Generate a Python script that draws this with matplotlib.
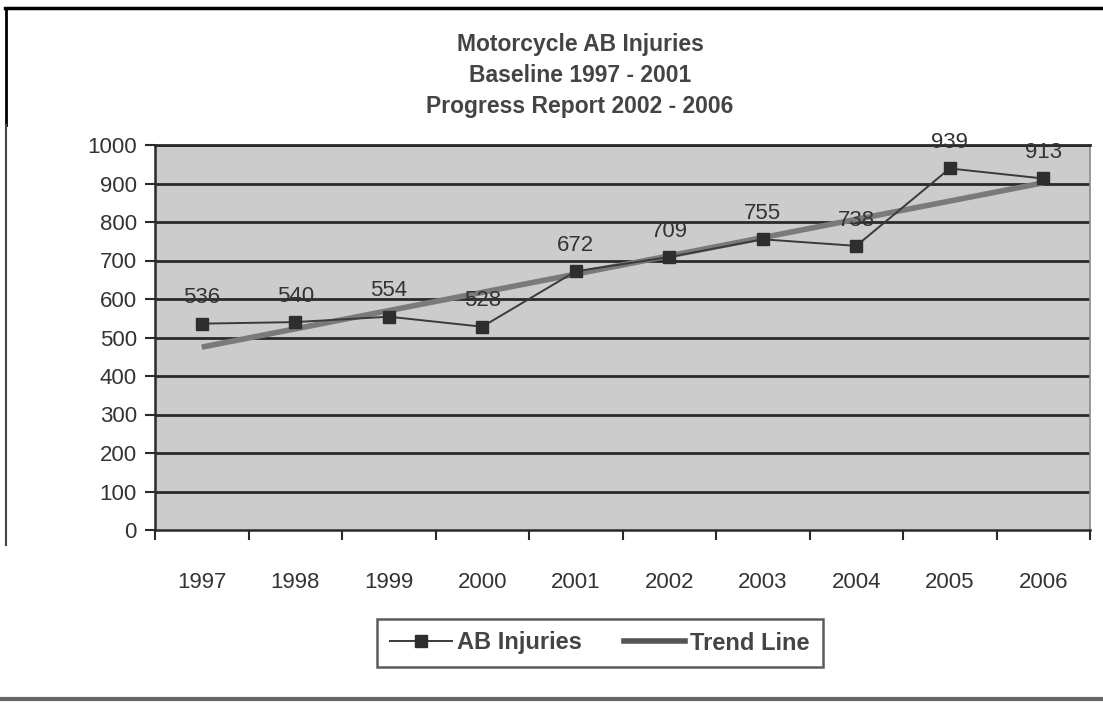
import matplotlib
matplotlib.use("Agg")
import matplotlib.pyplot as plt
import numpy as np
from matplotlib.lines import Line2D
from matplotlib.ticker import FixedLocator

years = ["1997", "1998", "1999", "2000", "2001", "2002", "2003", "2004", "2005", "2006"]
injuries = [536, 540, 554, 528, 672, 709, 755, 738, 939, 913]
yticks = [0, 100, 200, 300, 400, 500, 600, 700, 800, 900, 1000]
title_lines = ["Motorcycle AB Injuries", "Baseline 1997 - 2001", "Progress Report 2002 - 2006"]

plt.rcParams['font.family'] = ['Liberation Sans', 'DejaVu Sans']

W, H = 1103, 703
fig = plt.figure(figsize=(W / 100, H / 100), dpi=100)
fig.patch.set_facecolor('white')

def fx(px):
    return px / W

def fy(py):
    return 1 - py / H

ax = fig.add_axes([fx(155), fy(530), fx(1090) - fx(155), fy(145) - fy(530)])
ax.set_facecolor('#cccccc')

x = np.arange(len(years))
coef = np.polyfit(x, injuries, 1)
trend = np.polyval(coef, x)

ax.set_xlim(-0.5, len(years) - 0.5)
ax.set_ylim(0, 1000)

for v in yticks[1:]:
    ax.axhline(v, color='#2a2a2a', lw=2.0, zorder=1)

ax.plot(x, trend, color='#7a7a7a', lw=4, solid_capstyle='butt', zorder=2)
ax.plot(x, injuries, color='#3a3a3a', lw=1.4, marker='s', markersize=8,
        markerfacecolor='#2e2e2e', markeredgecolor='#2e2e2e', zorder=3)

for xi, v in zip(x, injuries):
    ax.annotate(str(v), (xi, v), xytext=(0, 11), textcoords='offset points',
                ha='center', va='bottom', fontsize=16, color='#333333', zorder=4)

ax.set_yticks(yticks)
ax.set_yticklabels([str(v) for v in yticks], fontsize=16, color='#333333')
ax.set_xticks(x)
ax.set_xticklabels(years, fontsize=16, color='#333333')
ax.tick_params(axis='x', which='major', length=0, pad=30)
ax.xaxis.set_minor_locator(FixedLocator(np.arange(-0.5, len(years), 1.0)))
ax.tick_params(axis='x', which='minor', length=7, width=1.5, color='#2a2a2a')
ax.tick_params(axis='y', length=7, width=1.5, color='#2a2a2a', pad=6)

for s in ['left', 'bottom']:
    ax.spines[s].set_color('#2a2a2a')
    ax.spines[s].set_linewidth(1.8)
ax.spines['top'].set_color('#2a2a2a')
ax.spines['top'].set_linewidth(2.0)
ax.spines['right'].set_color('#8a8a8a')
ax.spines['right'].set_linewidth(1.2)

# Title
for i, t in enumerate(title_lines):
    fig.text(fx(580), fy(44 + i * 31), t, ha='center', va='center', fontsize=16.5,
             fontweight='bold', color='#444444')

# Legend
handles = [
    Line2D([], [], color='#3a3a3a', lw=1.4, marker='s', markersize=8,
           markerfacecolor='#2e2e2e', markeredgecolor='#2e2e2e'),
    Line2D([], [], color='#555555', lw=4),
]
leg = fig.legend(handles, ['AB Injuries', 'Trend Line'], loc='center',
                 bbox_to_anchor=(fx(600), fy(643)), ncol=2, frameon=True,
                 fancybox=False, edgecolor='#333333',
                 prop={'weight': 'bold', 'size': 17}, handlelength=2.6,
                 handletextpad=0.2, columnspacing=1.8, borderpad=0.55)
leg.get_frame().set_linewidth(1.8)
for t in leg.get_texts():
    t.set_color('#444444')

# Figure border pieces
fig.add_artist(Line2D([fx(5), fx(1103)], [fy(8), fy(8)], color='black', lw=2.5))
fig.add_artist(Line2D([fx(6), fx(6)], [fy(8), fy(125)], color='black', lw=2))
fig.add_artist(Line2D([fx(6), fx(6)], [fy(125), fy(545)], color='#444444', lw=1.5))
fig.add_artist(Line2D([fx(0), fx(1103)], [fy(699), fy(699)], color='#666666', lw=3))

fig.savefig('out.png', dpi=100)
